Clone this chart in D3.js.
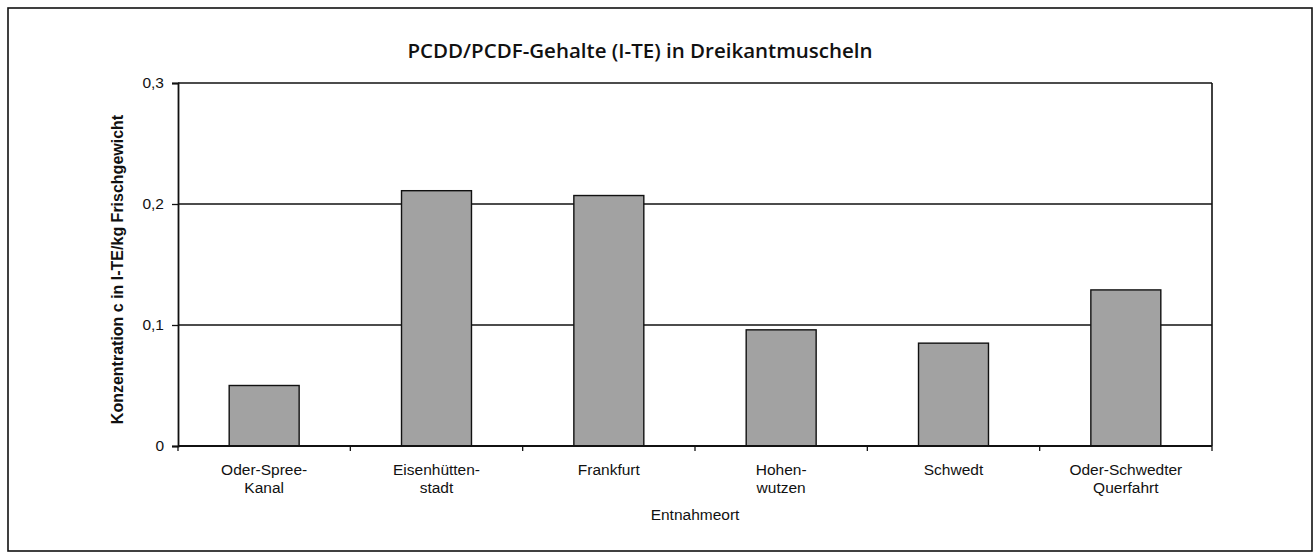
<!DOCTYPE html>
<html lang="de">
<head>
<meta charset="UTF-8" />
<title>PCDD/PCDF-Gehalte in Dreikantmuscheln</title>
<script src="https://d3js.org/d3.v7.min.js"></script>
<style>
  body { margin: 0; background: #fff; }
  svg { display: block; }
  .tick-label { font-family: Arial, "Liberation Sans", sans-serif; font-size: 15.5px; fill: #111; }
</style>
</head>
<body>
<svg id="chart" width="1315" height="554"></svg>
<script>
// data
const categories = [
  ["Oder-Spree-", "Kanal"],
  ["Eisenhütten-", "stadt"],
  ["Frankfurt"],
  ["Hohen-", "wutzen"],
  ["Schwedt"],
  ["Oder-Schwedter", "Querfahrt"]
];
const values = [0.05, 0.211, 0.207, 0.096, 0.085, 0.129];
const yTicks = [0, 0.1, 0.2, 0.3];
const yTickLabels = ["0", "0,1", "0,2", "0,3"];

const svg = d3.select("#chart");

const margin = { left: 178, right: 1212, top: 83, bottom: 446 };

const x = d3.scaleBand()
  .domain(d3.range(categories.length))
  .range([margin.left, margin.right])
  .paddingInner(0.594)
  .paddingOuter(0.297);

const y = d3.scaleLinear()
  .domain([0, 0.3])
  .range([margin.bottom, margin.top]);

// outer frame
svg.append("rect")
  .attr("x", 8).attr("y", 8)
  .attr("width", 1304).attr("height", 543)
  .attr("fill", "none")
  .attr("stroke", "#111")
  .attr("stroke-width", 1.6);

// title
svg.append("text")
  .attr("x", 640).attr("y", 58)
  .attr("text-anchor", "middle")
  .style("font-family", "'Open Sans', sans-serif")
  .style("font-weight", 600)
  .style("font-size", "20.5px")
  .attr("fill", "#111")
  .text("PCDD/PCDF-Gehalte (I-TE) in Dreikantmuscheln");

// grid lines
svg.append("g")
  .selectAll("line")
  .data(yTicks.filter(d => d > 0))
  .join("line")
  .attr("x1", margin.left).attr("x2", margin.right)
  .attr("y1", d => y(d)).attr("y2", d => y(d))
  .attr("stroke", "#111")
  .attr("stroke-width", 1.3);

// right border of plot area
svg.append("line")
  .attr("x1", margin.right).attr("x2", margin.right)
  .attr("y1", margin.top).attr("y2", margin.bottom)
  .attr("stroke", "#111")
  .attr("stroke-width", 1.6);

// bars
svg.append("g")
  .selectAll("rect")
  .data(values)
  .join("rect")
  .attr("x", (d, i) => x(i))
  .attr("y", d => y(d))
  .attr("width", x.bandwidth())
  .attr("height", d => y(0) - y(d))
  .attr("fill", "#a2a2a2")
  .attr("stroke", "#111")
  .attr("stroke-width", 1.4);

// y axis
const yAxis = svg.append("g")
  .attr("transform", `translate(${margin.left},0)`)
  .call(d3.axisLeft(y)
    .tickValues(yTicks)
    .tickFormat((d, i) => yTickLabels[i])
    .tickSize(6)
    .tickPadding(8));
yAxis.attr("font-family", null).attr("font-size", null);
yAxis.select(".domain").attr("stroke", "#111").attr("stroke-width", 1.8);
yAxis.selectAll(".tick line").attr("stroke", "#111").attr("stroke-width", 1.3);
yAxis.selectAll(".tick text").attr("class", "tick-label");

// x axis: baseline with ticks on category boundaries
const xBase = svg.append("g");
xBase.append("line")
  .attr("x1", margin.left).attr("x2", margin.right)
  .attr("y1", y(0)).attr("y2", y(0))
  .attr("stroke", "#111")
  .attr("stroke-width", 1.8);
xBase.selectAll("line.bnd")
  .data(d3.range(categories.length + 1))
  .join("line")
  .attr("class", "bnd")
  .attr("x1", i => margin.left + i * x.step())
  .attr("x2", i => margin.left + i * x.step())
  .attr("y1", y(0)).attr("y2", y(0) + 5)
  .attr("stroke", "#111")
  .attr("stroke-width", 1.3);

// category labels
const catLabels = svg.append("g")
  .selectAll("text")
  .data(categories)
  .join("text")
  .attr("class", "tick-label")
  .attr("text-anchor", "middle")
  .attr("x", (d, i) => x(i) + x.bandwidth() / 2)
  .attr("y", y(0) + 29);
catLabels.selectAll("tspan")
  .data(d => d)
  .join("tspan")
  .attr("x", function () { return d3.select(this.parentNode).attr("x"); })
  .attr("dy", (d, i) => i === 0 ? 0 : 18)
  .text(d => d);

// x axis title
svg.append("text")
  .attr("class", "tick-label")
  .attr("x", (margin.left + margin.right) / 2)
  .attr("y", 520)
  .attr("text-anchor", "middle")
  .style("font-size", "15.5px")
  .text("Entnahmeort");

// y axis title
svg.append("text")
  .attr("transform", `translate(123,${(margin.top + margin.bottom) / 2 + 5}) rotate(-90)`)
  .attr("text-anchor", "middle")
  .style("font-family", "Arial, 'Liberation Sans', sans-serif")
  .style("font-weight", "bold")
  .style("font-size", "16px")
  .attr("fill", "#111")
  .text("Konzentration c in I-TE/kg Frischgewicht");
</script>
</body>
</html>
